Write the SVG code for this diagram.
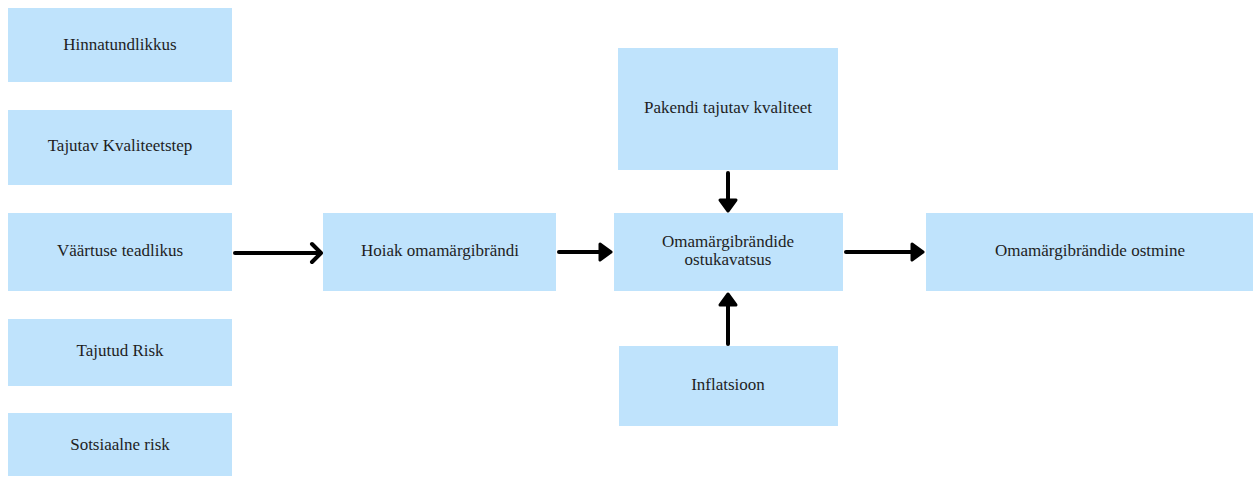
<svg xmlns="http://www.w3.org/2000/svg" width="1257" height="477" viewBox="0 0 1257 477">
<style>
.box{fill:#bfe3fc;}
.t{font-family:"Liberation Serif","Times New Roman",serif;font-size:17px;fill:#1e1e1e;text-anchor:middle;dominant-baseline:central;}
.c{stroke:#000;stroke-width:4;fill:none;stroke-linecap:round;stroke-linejoin:round;}
.h{fill:#000;stroke:#000;stroke-width:3;stroke-linejoin:round;}
</style>
<rect width="1257" height="477" fill="#fff"/>
<g id="n1"><rect class="box" x="8" y="8" width="224" height="74"/><text class="t" x="120" y="44">Hinnatundlikkus</text></g>
<g id="n2"><rect class="box" x="8" y="110" width="224" height="75"/><text class="t" x="120" y="145">Tajutav Kvaliteetstep</text></g>
<g id="n3"><rect class="box" x="8" y="213" width="224" height="78"/><text class="t" x="120" y="250">Väärtuse teadlikus</text></g>
<g id="n4"><rect class="box" x="8" y="319" width="224" height="67"/><text class="t" x="120" y="350">Tajutud Risk</text></g>
<g id="n5"><rect class="box" x="8" y="413" width="224" height="63"/><text class="t" x="120" y="444">Sotsiaalne risk</text></g>
<g id="n6"><rect class="box" x="323" y="213" width="233" height="78"/><text class="t" x="440" y="250">Hoiak omamärgibrändi</text></g>
<g id="n7"><rect class="box" x="614" y="213" width="229" height="78"/><text class="t" x="728" y="241">Omamärgibrändide</text><text class="t" x="728" y="259">ostukavatsus</text></g>
<g id="n8"><rect class="box" x="618" y="48" width="220" height="122"/><text class="t" x="728" y="107">Pakendi tajutav kvaliteet</text></g>
<g id="n9"><rect class="box" x="619" y="346" width="219" height="80"/><text class="t" x="728" y="384">Inflatsioon</text></g>
<g id="n10"><rect class="box" x="926" y="213" width="327" height="78"/><text class="t" x="1090" y="250">Omamärgibrändide ostmine</text></g>
<g id="connectors">
<path class="c" d="M235 253 H320 M312 244 L321 253 L312 262"/>
<path class="c" d="M559 252 H600"/><path class="h" d="M600 244 L611 252 L600 260 Z"/>
<path class="c" d="M846 252 H912"/><path class="h" d="M912 244 L923 252 L912 260 Z"/>
<path class="c" d="M728 173 V200"/><path class="h" d="M720 200 L728 211 L736 200 Z"/>
<path class="c" d="M728 344 V305"/><path class="h" d="M720 305 L728 294 L736 305 Z"/>
</g>
</svg>
